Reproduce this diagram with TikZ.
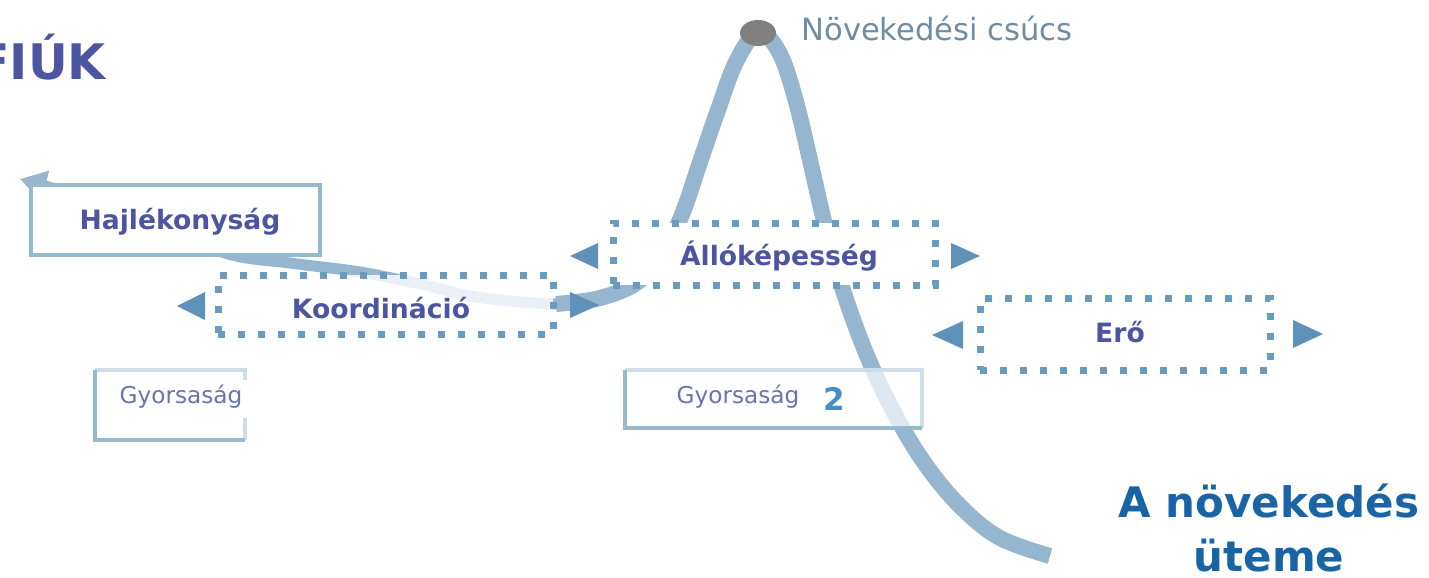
\documentclass[tikz,border=0pt]{standalone}
\usepackage{fontspec}
\setmainfont{DejaVu Sans}
\usetikzlibrary{arrows.meta}
\definecolor{curvec}{RGB}{150,181,206}
\definecolor{boxborder}{RGB}{150,185,205}
\definecolor{boxlight}{RGB}{205,220,230}
\definecolor{dotc}{RGB}{105,155,190}
\definecolor{tric}{RGB}{95,145,185}
\definecolor{textblue}{RGB}{75,85,160}
\definecolor{textlight}{RGB}{105,115,175}
\definecolor{peaktext}{RGB}{110,140,165}
\definecolor{titleblue}{RGB}{25,100,165}
\definecolor{peakgrey}{RGB}{128,128,128}
\definecolor{twoblue}{RGB}{70,140,200}
\begin{document}
\begin{tikzpicture}[x=0.5pt,y=-0.5pt,
  curveline/.style={draw=curvec,line width=8pt},
  curvethin/.style={draw=curvec,line width=5.5pt},
  solidbox/.style={rectangle,draw=boxborder,line width=2pt,fill=white,inner sep=0pt,outer sep=0pt},
  plainbox/.style={rectangle,fill=white,inner sep=0pt,outer sep=0pt},
  dotbox/.style={rectangle,draw=dotc,line width=3.5pt,dash pattern=on 3.5pt off 6.5pt,fill=white,inner sep=0pt,outer sep=0pt},
  tri/.style={fill=tric},
  lbl/.style={anchor=base,inner sep=0pt,text=textblue,font=\fontsize{13.3}{16}\selectfont\bfseries},
  small/.style={anchor=base,inner sep=0pt,text=textlight,font=\fontsize{11.6}{14}\selectfont},
  bigtitle/.style={anchor=base,inner sep=0pt,text=titleblue,font=\fontsize{21}{25}\selectfont\bfseries}
]
\clip (0,0) rectangle (1429,578);
\fill[white] (0,0) rectangle (1429,578);

% the growth curve
\draw[curvethin,-{Triangle[length=13pt,width=15pt]}] plot[smooth] coordinates {(560,304) (520,302) (470,296) (420,284) (360,272) (290,263) (225,253) (130,212) (20,179)};
\draw[curveline] plot[smooth,tension=0.6] coordinates {(556,304) (600,298) (638,282) (664,252) (683,212) (700,162) (718,110) (736,62) (758,32) (779,52) (795,98) (810,160) (825,225) (843,290) (868,358) (898,420) (928,468) (962,508) (1000,538) (1050,556)};

% boxes
\node[solidbox,minimum width=144.5pt,minimum height=35pt] (haj) at (175.5,220) {};
\node[dotbox,fill opacity=0.8,minimum width=167.5pt,minimum height=29.5pt] (koord) at (385.5,304.5) {};
\node[dotbox,minimum width=161pt,minimum height=31pt] (allo) at (774,254) {};
\node[dotbox,minimum width=145pt,minimum height=36pt] (ero) at (1125,334) {};

\node[plainbox,minimum width=75pt,minimum height=35pt] (gy1) at (170,405) {};
\draw[boxlight,line width=2pt] (gy1.north west) -- (gy1.north east) -- ++(0,10);
\draw[boxlight,line width=2pt] (gy1.south east) -- ++(0,-22);
\draw[boxborder,line width=2pt] (gy1.north west) -- (gy1.south west) -- (gy1.south east);

\node[plainbox,fill opacity=0.7,minimum width=148.5pt,minimum height=29pt] (gy2) at (773.5,399) {};
\draw[boxlight,line width=2pt] (gy2.north west) -- (gy2.north east) -- (gy2.south east);
\draw[boxborder,line width=2pt] (gy2.north west) -- (gy2.south west) -- (gy2.south east);

% triangles
\fill[tri] (177,306) -- (205,292) -- (205,320) -- cycle;
\fill[tri] (599,305) -- (570,292) -- (570,318) -- cycle;
\fill[tri] (570,256) -- (598,243) -- (598,269) -- cycle;
\fill[tri] (980,256) -- (951,243) -- (951,269) -- cycle;
\fill[tri] (932,335) -- (963,321) -- (963,349) -- cycle;
\fill[tri] (1323,334) -- (1293,320) -- (1293,348) -- cycle;

% peak
\fill[peakgrey] (758,33) ellipse[x radius=18,y radius=13];
\node[anchor=base west,inner sep=0pt,text=peaktext,font=\fontsize{15.3}{18}\selectfont] (peaklbl) at (801,40) {Növekedési csúcs};

% labels
\node[anchor=base west,inner sep=0pt,text=textblue,font=\fontsize{24.5}{29}\selectfont\bfseries] (fiuk) at (-24,79) {FIÚK};
\node[lbl] (hajt) at (180,229) {Hajlékonyság};
\node[lbl] (koordt) at (381,318) {Koordináció};
\node[lbl] (allot) at (779,265) {Állóképesség};
\node[lbl] (erot) at (1120,342) {Erő};
\node[small] (gy1t) at (181,403) {Gyorsaság};
\node[small] (gy2t) at (738,403) {Gyorsaság};
\node[anchor=base,inner sep=0pt,text=twoblue,font=\fontsize{15.5}{18}\selectfont\bfseries] (two) at (834,410) {2};
\node[bigtitle] (title1) at (1269,517) {A növekedés};
\node[bigtitle] (title2) at (1269,571) {üteme};
\end{tikzpicture}
\end{document}
